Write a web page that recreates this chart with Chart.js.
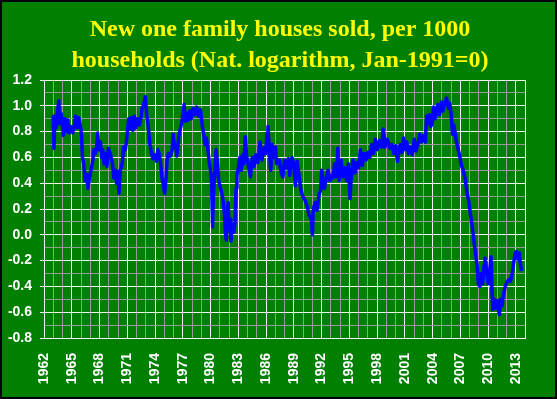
<!DOCTYPE html>
<html><head><meta charset="utf-8">
<script src="https://cdn.jsdelivr.net/npm/chart.js@4.4.1/dist/chart.umd.min.js"></script>
<style>
html,body{margin:0;padding:0;background:#008000;}
canvas{display:block;}
</style></head><body>
<canvas id="c" width="557" height="399"></canvas>
<script>
const titleLines = ['New one family houses sold, per 1000', 'households (Nat. logarithm, Jan-1991=0)'];

// time in fractional years
const dates = [
1963.0,1963.08,1963.17,1963.3,1963.45,1963.6,1963.7,1963.85,1964.0,1964.1,1964.25,1964.4,1964.55,1964.7,1964.9,
1965.1,1965.3,1965.4,1965.6,1965.75,1965.95,1966.06,1966.15,1966.3,1966.45,1966.6,1966.75,1966.9,
1967.1,1967.25,1967.4,1967.55,1967.7,1967.8,1967.95,1968.1,1968.2,1968.35,1968.5,1968.65,1968.8,1968.95,
1969.2,1969.4,1969.55,1969.7,1969.85,1970.0,1970.1,1970.25,1970.45,1970.6,1970.8,1970.95,
1971.15,1971.3,1971.45,1971.6,1971.75,1971.9,1972.1,1972.3,1972.5,1972.6,1972.8,1972.95,
1973.1,1973.25,1973.45,1973.6,1973.75,1973.95,1974.15,1974.3,1974.45,1974.6,1974.75,1974.9,
1975.04,1975.2,1975.3,1975.45,1975.65,1975.85,1975.95,1976.1,1976.25,1976.35,1976.55,1976.75,1976.9,
1977.05,1977.14,1977.3,1977.45,1977.6,1977.75,1977.9,1978.1,1978.3,1978.5,1978.7,1978.9,
1979.1,1979.25,1979.4,1979.55,1979.7,1979.85,1980.0,1980.1,1980.22,1980.3,1980.45,1980.6,1980.75,1980.9,
1981.05,1981.25,1981.4,1981.5,1981.6,1981.7,1981.8,1981.9,1982.0,1982.1,1982.2,1982.35,1982.5,1982.65,1982.75,1982.85,
1983.0,1983.15,1983.3,1983.45,1983.6,1983.75,1983.9,1984.1,1984.3,1984.5,1984.7,1984.9,
1985.1,1985.35,1985.55,1985.75,1985.95,1986.1,1986.2,1986.35,1986.5,1986.65,1986.8,
1987.0,1987.15,1987.45,1987.6,1987.8,1988.0,1988.2,1988.4,1988.55,1988.8,
1989.0,1989.15,1989.35,1989.6,1989.75,1989.95,1990.2,1990.45,1990.65,1990.9,
1991.0,1991.1,1991.3,1991.5,1991.7,1991.9,1992.0,1992.1,1992.3,1992.5,1992.7,1992.9,
1993.1,1993.25,1993.4,1993.6,1993.75,1993.9,1994.1,1994.3,1994.5,1994.7,1994.9,
1995.07,1995.2,1995.4,1995.6,1995.8,1996.0,1996.2,1996.4,1996.6,1996.8,
1997.0,1997.2,1997.4,1997.6,1997.8,1998.0,1998.25,1998.5,1998.65,1998.85,
1999.1,1999.4,1999.6,1999.8,2000.0,2000.2,2000.5,2000.7,2000.85,
2001.0,2001.2,2001.4,2001.6,2001.8,2002.0,2002.2,2002.4,2002.6,2002.8,
2003.0,2003.2,2003.35,2003.5,2003.65,2003.8,2003.95,2004.1,2004.25,2004.4,2004.55,2004.75,2004.95,
2005.1,2005.3,2005.5,2005.7,2005.85,2006.0,2006.15,2006.3,2006.5,2006.7,2006.9,
2007.1,2007.3,2007.5,2007.7,2007.9,2008.1,2008.3,2008.5,2008.65,2008.8,2008.95,
2009.1,2009.2,2009.4,2009.55,2009.65,2009.85,2010.0,2010.15,2010.3,2010.4,2010.5,2010.65,2010.85,
2011.0,2011.2,2011.35,2011.5,2011.65,2011.85,2012.0,2012.2,2012.4,2012.6,2012.75,2012.9,
2013.05,2013.2,2013.35,2013.45,2013.6
];

// ln(new one-family houses sold per 1000 households), Jan-1991 = 0
const logSales = [
0.92,0.67,0.90,0.83,0.95,1.04,0.86,0.94,0.84,0.77,0.90,0.80,0.89,0.79,0.84,
0.79,0.85,0.92,0.83,0.91,0.84,0.77,0.60,0.55,0.42,0.47,0.36,0.44,
0.51,0.56,0.66,0.63,0.69,0.79,0.66,0.72,0.60,0.66,0.55,0.63,0.53,0.67,
0.62,0.55,0.44,0.50,0.40,0.49,0.32,0.50,0.55,0.68,0.66,0.75,
0.90,0.82,0.91,0.81,0.92,0.83,0.90,0.85,0.92,0.98,1.02,1.07,
0.93,0.85,0.70,0.64,0.59,0.62,0.57,0.66,0.63,0.55,0.44,0.39,
0.32,0.45,0.58,0.63,0.61,0.66,0.78,0.68,0.70,0.61,0.75,0.83,0.87,
0.95,1.01,0.88,0.94,0.89,0.96,0.90,0.98,0.93,0.99,0.92,0.97,
0.85,0.78,0.70,0.75,0.67,0.57,0.50,0.42,0.06,0.30,0.48,0.66,0.55,0.41,
0.37,0.31,0.24,0.15,0.02,-0.04,0.15,0.25,0.05,0.12,-0.05,0.08,0.02,0.10,0.36,0.46,
0.52,0.60,0.50,0.62,0.55,0.76,0.61,0.53,0.45,0.60,0.53,0.62,
0.56,0.72,0.58,0.67,0.63,0.79,0.84,0.66,0.50,0.70,0.60,
0.68,0.55,0.58,0.49,0.45,0.58,0.52,0.59,0.46,0.60,
0.55,0.38,0.57,0.44,0.35,0.30,0.27,0.22,0.15,0.12,
0.00,0.20,0.25,0.19,0.30,0.35,0.50,0.45,0.36,0.44,0.50,0.42,
0.46,0.44,0.55,0.45,0.67,0.42,0.58,0.45,0.52,0.42,0.55,
0.28,0.45,0.58,0.48,0.56,0.52,0.66,0.54,0.63,0.58,
0.64,0.60,0.70,0.63,0.74,0.66,0.73,0.68,0.82,0.68,
0.74,0.67,0.70,0.63,0.69,0.57,0.70,0.64,0.75,
0.66,0.72,0.63,0.68,0.62,0.74,0.65,0.70,0.78,0.72,
0.77,0.72,0.92,0.86,0.93,0.84,0.87,0.99,0.90,0.95,1.01,0.93,1.03,
0.96,1.02,1.06,0.98,1.02,0.93,0.78,0.85,0.75,0.68,0.62,
0.54,0.50,0.44,0.33,0.26,0.15,0.05,-0.07,-0.16,-0.24,-0.38,
-0.40,-0.30,-0.38,-0.24,-0.18,-0.30,-0.38,-0.29,-0.17,-0.40,-0.58,-0.50,-0.57,
-0.51,-0.62,-0.50,-0.55,-0.46,-0.40,-0.37,-0.35,-0.36,-0.30,-0.22,-0.15,
-0.13,-0.19,-0.14,-0.21,-0.28
];

const yearMin = 1962, yearMax = 2014;
const labelEvery = 3;

const WHITE = '#f2f2f2', GRAY = '#999999';

const frame = {
  id: 'frame',
  beforeDraw(chart) {
    const c = chart.ctx;
    c.save();
    c.fillStyle = '#008000';
    c.fillRect(0, 0, chart.width, chart.height);
    c.restore();
  },
  afterDraw(chart) {
    const c = chart.ctx;
    c.save();
    c.strokeStyle = '#000';
    c.lineWidth = 2;
    c.strokeRect(1, 1, chart.width - 2, chart.height - 2);
    c.fillStyle = '#ffff00';
    c.font = 'bold 24px "Liberation Serif", "Times New Roman", serif';
    c.textAlign = 'center';
    c.textBaseline = 'alphabetic';
    c.fillText(titleLines[0], 280, 36);
    c.fillText(titleLines[1], 280, 67);
    c.restore();
  }
};

const pts = dates.map((d, i) => ({x: d, y: logSales[i]}));

new Chart(document.getElementById('c'), {
  type: 'line',
  data: { datasets: [{
    data: pts,
    borderColor: '#0000ff',
    borderWidth: 3.5,
    pointRadius: 0,
    tension: 0,
    borderJoinStyle: 'round',
    fill: false
  }]},
  options: {
    responsive: false,
    animation: false,
    devicePixelRatio: 1,
    layout: { padding: { top: 80, right: 19, left: 0, bottom: 0 } },
    plugins: { legend: { display: false }, title: { display: false }, tooltip: { enabled: false } },
    scales: {
      x: {
        type: 'linear',
        min: yearMin, max: yearMax,
        afterFit(s) { s.height = 61; },
        border: { display: true, color: WHITE, width: 1 },
        grid: {
          drawTicks: false,
          color: ctx => {
            const v = Math.round(ctx.tick.value);
            return ((v - yearMin) % labelEvery === 0 || v === yearMax) ? WHITE : GRAY;
          },
          lineWidth: 1
        },
        ticks: {
          stepSize: 1,
          autoSkip: false,
          minRotation: 90, maxRotation: 90,
          padding: 15,
          color: '#ffffff',
          font: { family: '"Liberation Sans", Arial, sans-serif', size: 14, weight: 'bold' },
          callback: v => ((Math.round(v) - yearMin) % labelEvery === 0 && v < yearMax) ? String(Math.round(v)) : ''
        }
      },
      y: {
        min: -0.8, max: 1.2,
        afterFit(s) { s.width = 44; },
        border: { display: true, color: WHITE, width: 1 },
        grid: {
          drawTicks: true,
          tickLength: 4,
          color: ctx => (Math.round(ctx.tick.value * 10) % 2 === 0) ? WHITE : GRAY,
          tickColor: ctx => (Math.round(ctx.tick.value * 10) % 2 === 0) ? WHITE : 'rgba(0,0,0,0)',
          lineWidth: 1
        },
        ticks: {
          stepSize: 0.1,
          autoSkip: false,
          padding: 8,
          color: '#ffffff',
          font: { family: '"Liberation Sans", Arial, sans-serif', size: 14, weight: 'bold' },
          callback: v => {
            const r = Math.round(v * 10);
            return (r % 2 === 0) ? (r / 10).toFixed(1) : '';
          }
        }
      }
    }
  },
  plugins: [frame]
});
</script>
</body></html>
